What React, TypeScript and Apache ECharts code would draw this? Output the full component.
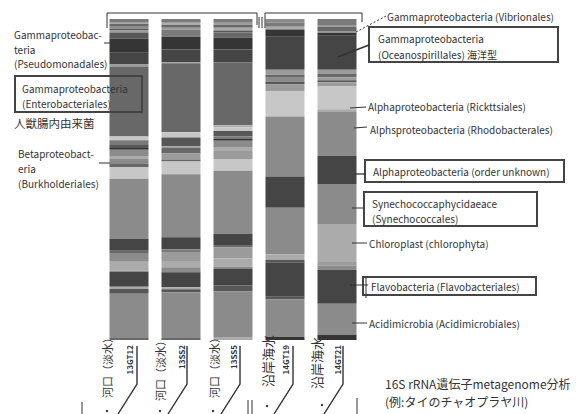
import React, { useEffect, useRef } from "react";
import * as echarts from "echarts";

// Sample IDs (x categories)
const sampleIds = ["13GT12", "13SS2", "13SS5", "14GT19", "14GT21"];
const sampleSites = ["河口（淡水）", "河口（淡水）", "河口（淡水）", "沿岸海水", "沿岸海水"];

// Relative abundance (%) of each stacked segment, listed from the top of the bar down
const bar1Values = [1.2, 0.3, 0.9, 0.6, 0.6, 0.6, 1.9, 4.4, 3.7, 0.6, 21.8, 1.2, 1.2, 1.2, 0.5, 2.0, 0.9, 1.6, 0.9, 3.7, 18.7, 3.7, 0.9, 2.5, 2.8, 0.3, 4.7, 0.6, 1.6, 13.8, 0.6];
const bar1Shades = ["M3", "L1", "M2", "G", "M1", "G2", "M1", "D1", "D2", "G2", "M2", "L2", "M3", "M1", "D1", "G", "L1", "G", "M2", "L2", "G", "D2", "M2", "G", "L1", "G", "D2", "L1", "M1", "G", "M2"];

const bar2Values = [1.2, 0.6, 0.9, 0.6, 2.2, 4.0, 4.0, 0.3, 21.5, 1.6, 2.8, 0.3, 1.9, 1.9, 0.6, 4.0, 19.6, 3.7, 0.9, 2.8, 1.9, 1.6, 4.7, 0.6, 0.9, 14.3, 0.6];
const bar2Shades = ["M3", "L1", "M2", "G2", "M3", "D1", "D2", "G2", "M2", "L2", "M1", "L1", "M2", "G2", "M2", "L2", "G", "D2", "M3", "G2", "L1", "G", "D2", "L1", "M1", "G", "M2"];

const bar3Values = [0.9, 0.9, 0.9, 0.9, 0.6, 1.6, 3.7, 4.0, 19.6, 0.6, 1.2, 1.6, 0.9, 0.5, 2.0, 1.2, 2.5, 3.7, 19.6, 3.7, 0.6, 3.4, 2.5, 0.6, 5.3, 1.9, 14.2, 0.9];
const bar3Shades = ["M3", "G2", "M2", "L1", "M1", "M2", "D1", "D2", "M2", "L1", "L2", "M1", "M3", "D1", "G", "L1", "G2", "L2", "G", "D2", "M2", "G2", "L1", "G", "D2", "M1", "G", "L1"];

const bar4Values = [1.2, 1.2, 0.9, 2.2, 10.3, 1.6, 0.9, 1.2, 0.9, 2.2, 7.8, 18.7, 9.7, 14.6, 1.6, 0.9, 10.6, 0.9, 11.7, 0.9];
const bar4Shades = ["G", "M3", "L1", "D1", "D2", "G2", "M2", "G", "M1", "G2", "L2", "G", "D2", "G", "L1", "M1", "D2", "M1", "G", "D1"];

const bar5Values = [1.9, 0.6, 1.2, 0.6, 0.9, 10.6, 1.2, 1.2, 0.9, 0.6, 1.2, 7.2, 0.9, 13.7, 8.7, 12.5, 11.8, 1.2, 1.2, 10.6, 9.7, 1.6];
const bar5Shades = ["M3", "G2", "M2", "G2", "D1", "D2", "G2", "M2", "G2", "M1", "G2", "L2", "L1", "G", "D2", "G", "L1", "G2", "G", "D2", "G", "D1"];

const palette: Record<string, string> = {
  D1: "#353535",
  D2: "#454545",
  M1: "#575757",
  M2: "#686868",
  M3: "#7a7a7a",
  G: "#8b8b8b",
  G2: "#9b9b9b",
  L1: "#ababab",
  L2: "#c7c7c7",
};

const TXT = "#333";
const FONT = "'Noto Sans CJK JP', 'Noto Sans', sans-serif";

function txt(x: number, y: number, text: string, size = 10, extra: any = {}) {
  return {
    type: "text",
    x,
    y,
    z: 100,
    silent: true,
    ...extra,
    style: {
      text,
      fill: TXT,
      fontSize: size,
      fontFamily: FONT,
      verticalAlign: "middle",
      align: "left",
      ...(extra.style || {}),
    },
  };
}
function ln(x1: number, y1: number, x2: number, y2: number, w = 1, extra: any = {}) {
  return {
    type: "line",
    z: 100,
    silent: true,
    shape: { x1, y1, x2, y2 },
    style: { stroke: "#333", lineWidth: w, ...extra },
  };
}
function box(x: number, y: number, width: number, height: number) {
  return {
    type: "rect",
    z: 100,
    silent: true,
    shape: { x, y, width, height },
    style: { fill: "none", stroke: "#444", lineWidth: 2 },
  };
}
function pl(points: number[][], w = 1.3) {
  return {
    type: "polyline",
    z: 100,
    silent: true,
    shape: { points },
    style: { stroke: "#333", lineWidth: w, fill: "none" },
  };
}

export default function App() {
  const ref = useRef<HTMLDivElement>(null);
  useEffect(() => {
    if (!ref.current) return;
    const chart = echarts.init(ref.current, undefined, { renderer: "svg" });
    const bars = [bar1Values, bar2Values, bar3Values, bar4Values, bar5Values];
    const shades = [bar1Shades, bar2Shades, bar3Shades, bar4Shades, bar5Shades];
    const maxLen = Math.max(...bars.map((b) => b.length));
    const series = Array.from({ length: maxLen }, (_, k) => ({
      type: "bar",
      stack: "total",
      barWidth: 39,
      silent: true,
      data: bars.map((b, i) =>
        k < b.length
          ? { value: b[k], itemStyle: { color: palette[shades[i][k]] } }
          : { value: 0 }
      ),
    }));

    const siteX = [107, 160, 214, 267, 316];
    const siteY = [332, 335, 332, 335, 337];
    const bracketX = [137, 187, 240, 293, 343];
    const dotX = [107, 160, 213, 267, 322];
    const dotY = [411, 411, 411, 406, 405];

    const graphics: any[] = [];
    // top brackets
    graphics.push(pl([[107, 28], [107, 13], [257, 13], [257, 25]], 1));
    graphics.push(ln(259, 17, 259, 28, 1));
    graphics.push(ln(262, 17, 262, 28, 1));
    graphics.push(pl([[265, 28], [265, 13], [362, 13], [362, 22]], 1));

    // left annotations
    graphics.push(txt(14, 34, "Gammaproteobac-"));
    graphics.push(txt(14, 49, "teria"));
    graphics.push(txt(14, 63, "(Pseudomonadales)"));
    graphics.push(ln(104, 43, 114, 43, 1));
    graphics.push(box(15, 76, 127, 36));
    graphics.push(txt(22, 88, "Gammaproteobacteria"));
    graphics.push(txt(22, 103, "(Enterobacteriales)"));
    graphics.push(txt(14, 123, "人獣腸内由来菌", 11.5));
    graphics.push(txt(18, 153, "Betaproteobact-"));
    graphics.push(txt(18, 168, "eria"));
    graphics.push(txt(18, 183, "(Burkholderiales)"));
    graphics.push(ln(99, 163, 110, 163, 1));

    // right annotations
    graphics.push(txt(387, 16, "Gammaproteobacteria (Vibrionales)"));
    graphics.push(ln(356, 32, 386, 16, 1, { lineDash: [2, 2] }));
    graphics.push(box(369, 27, 189, 35));
    graphics.push(txt(378, 38, "Gammaproteobacteria"));
    graphics.push(txt(378, 54, "(Oceanospirillales) 海洋型"));
    graphics.push(ln(338, 57, 369, 45, 1.6));
    graphics.push(txt(368, 106, "Alphaproteobacteria (Rickttsiales)"));
    graphics.push(ln(350, 108, 366, 107, 1));
    graphics.push(txt(370, 129, "Alphsproteobacteria (Rhodobacterales)"));
    graphics.push(ln(354, 128, 367, 127, 1));
    graphics.push(box(365, 160, 199, 22));
    graphics.push(txt(373, 171, "Alphaproteobacteria (order unknown)"));
    graphics.push(ln(355, 174, 366, 174, 1.3));
    graphics.push(box(364, 192, 173, 34));
    graphics.push(txt(372, 203, "Synechococcaphycidaeace"));
    graphics.push(txt(372, 218, "(Synechococcales)"));
    graphics.push(ln(352, 208, 364, 208, 1));
    graphics.push(txt(369, 243, "Chloroplast (chlorophyta)"));
    graphics.push(ln(352, 243, 367, 243, 1));
    graphics.push(box(363, 277, 173, 18));
    graphics.push(txt(371, 286, "Flavobacteria (Flavobacteriales)"));
    graphics.push(ln(350, 285, 368, 285, 1));
    graphics.push(ln(366, 276, 366, 298, 1));
    graphics.push(txt(369, 323, "Acidimicrobia (Acidimicrobiales)"));
    graphics.push(ln(352, 323, 367, 323, 1));
    graphics.push(txt(385, 383, "16S rRNA遺伝子metagenome分析", 12));
    graphics.push(txt(385, 401, "(例:タイのチャオプラヤ川)", 12));

    // bottom site labels and brackets
    sampleSites.forEach((s, i) => {
      graphics.push(
        txt(siteX[i], siteY[i], s, i < 3 ? 11 : 13, {
          rotation: Math.PI / 2,
          style: { align: "right", verticalAlign: "middle" },
        })
      );
      const bx = bracketX[i];
      graphics.push(pl([[bx, 346], [bx, 384], [bx - 19, 414]], 1.4));
      graphics.push({
        type: "circle",
        z: 100,
        silent: true,
        shape: { cx: dotX[i], cy: dotY[i], r: 1.2 },
        style: { fill: "#333" },
      });
    });
    graphics.push(ln(82, 402, 82, 414, 1));
    graphics.push(ln(248, 400, 248, 414, 1));
    graphics.push(ln(252, 400, 252, 414, 1));
    graphics.push(ln(357, 398, 357, 414, 1));

    chart.setOption({
      animation: false,
      backgroundColor: "#ffffff",
      grid: { left: 103, right: 223, top: 19, bottom: 74 },
      xAxis: {
        type: "category",
        data: sampleIds,
        axisLine: { show: false },
        axisTick: { show: false },
        axisLabel: {
          rotate: 90,
          margin: 5,
          fontSize: 8,
          color: TXT,
          fontFamily: FONT,
          fontWeight: "bold",
        },
      },
      yAxis: {
        type: "value",
        min: 0,
        max: 100,
        inverse: true,
        show: false,
        splitLine: { show: false },
      },
      series,
      graphic: graphics,
    });
    return () => chart.dispose();
  }, []);
  return (
    <div
      ref={ref}
      style={{ position: "absolute", left: 0, top: 0, width: 586, height: 414 }}
    />
  );
}
